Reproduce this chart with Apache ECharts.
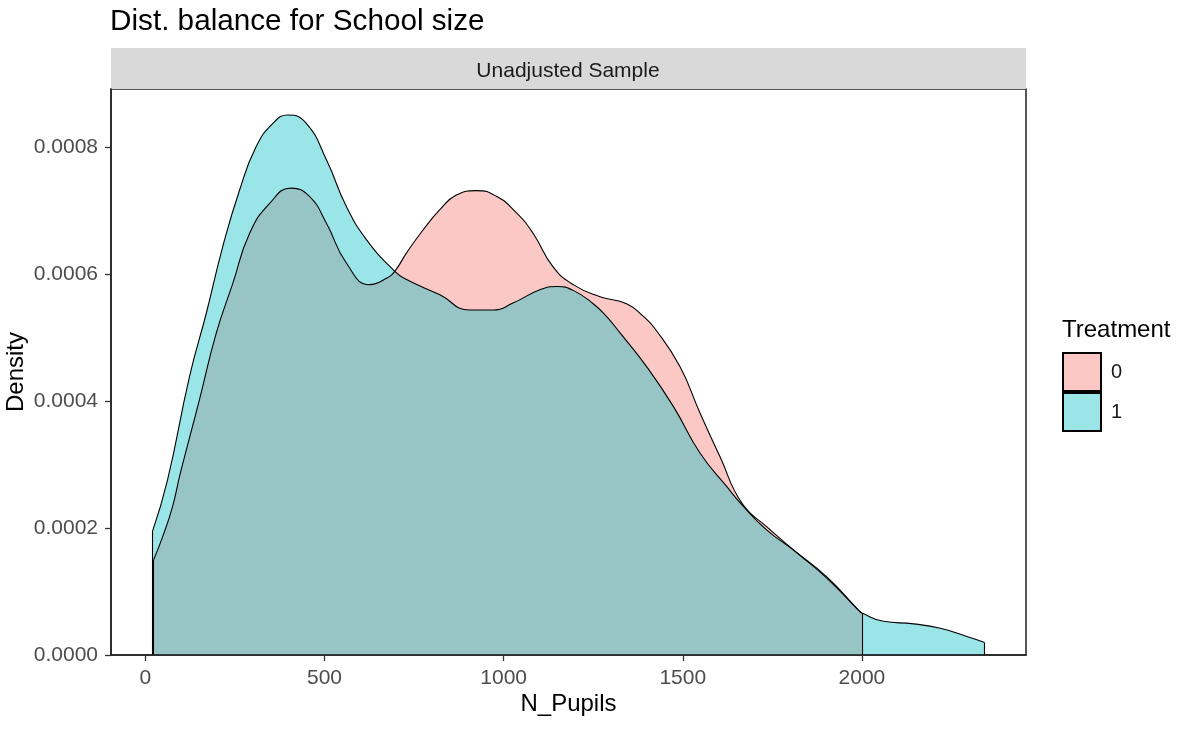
<!DOCTYPE html>
<html>
<head>
<meta charset="utf-8">
<title>Dist. balance for School size</title>
<script src="https://cdn.jsdelivr.net/npm/echarts@6/dist/echarts.min.js"></script>
<style>
  html, body { margin: 0; padding: 0; background: #fff; }
  #chart { width: 1186px; height: 729px; }
</style>
</head>
<body>
<div id="chart"></div>
<script>
// density estimates (N_Pupils, density)
const controlX = [23, 48, 76, 97, 151, 198, 244, 291, 347, 407, 458, 505, 561, 626, 673, 696, 729, 775, 822, 868, 924, 980, 1036, 1082, 1138, 1194, 1269, 1343, 1390, 1422, 1492, 1548, 1604, 1665, 1734, 1827, 1902, 1995, 2000];
const controlY = [0.000150, 0.000186, 0.000234, 0.000285, 0.000402, 0.000507, 0.000585, 0.000664, 0.000711, 0.000735, 0.000722, 0.000680, 0.000617, 0.000583, 0.000593, 0.000604, 0.000633, 0.000669, 0.000701, 0.000724, 0.000731, 0.000722, 0.000696, 0.000664, 0.000611, 0.000583, 0.000564, 0.000553, 0.000533, 0.000514, 0.000454, 0.000381, 0.000312, 0.000239, 0.000202, 0.000157, 0.000121, 0.000068, 0.000066];

const treatedX = [20, 62, 123, 170, 216, 263, 309, 356, 398, 449, 505, 561, 617, 696, 729, 822, 905, 971, 1026, 1101, 1150, 1194, 1250, 1287, 1325, 1399, 1474, 1548, 1623, 1669, 1734, 1809, 1902, 1995, 2000, 2060, 2144, 2219, 2293, 2341];
const treatedY = [0.000195, 0.000276, 0.000438, 0.000538, 0.000643, 0.000732, 0.000800, 0.000837, 0.000850, 0.000837, 0.000780, 0.000706, 0.000654, 0.000604, 0.000591, 0.000567, 0.000543, 0.000543, 0.000554, 0.000575, 0.000580, 0.000574, 0.000553, 0.000533, 0.000507, 0.000454, 0.000391, 0.000318, 0.000265, 0.000234, 0.000197, 0.000165, 0.000123, 0.000068, 0.000066, 0.000053, 0.000049, 0.000042, 0.000029, 0.000020];

const groupNames = ["0", "1"];
const xTicks = [0, 500, 1000, 1500, 2000];
const yTicks = [0, 0.0002, 0.0004, 0.0006, 0.0008];

const font = "'Liberation Sans', Arial, sans-serif";
const fillControl = "rgba(248,118,109,0.4)";
const fillTreated = "rgba(0,191,196,0.4)";

function pairs(xs, ys) {
  return xs.map((x, i) => [x, ys[i]]);
}

// vertical outline at both ends of a density, like geom_density draws
function edgeLines(xs, ys) {
  const last = xs.length - 1;
  return [
    [{ coord: [xs[0], 0] }, { coord: [xs[0], ys[0]] }],
    [{ coord: [xs[last], 0] }, { coord: [xs[last], ys[last]] }],
  ];
}

function densitySeries(name, xs, ys, fill) {
  return {
    name,
    type: "line",
    data: pairs(xs, ys),
    smooth: 0.5,
    showSymbol: false,
    symbol: "none",
    color: fill,
    lineStyle: { color: "#000", width: 1.1 },
    areaStyle: { color: fill, opacity: 1, origin: "start" },
    markLine: {
      silent: true,
      symbol: "none",
      label: { show: false },
      lineStyle: { color: "#000", width: 1.1, type: "solid" },
      data: edgeLines(xs, ys),
    },
    animation: false,
  };
}

const chart = echarts.init(document.getElementById("chart"));

chart.setOption({
  animation: false,
  textStyle: { fontFamily: font },
  title: {
    text: "Dist. balance for School size",
    left: 110,
    top: 7,
    padding: 0,
    textStyle: { fontSize: 29.7, fontWeight: "normal", color: "#000", fontFamily: font },
  },
  grid: {
    left: 111,
    right: 160,
    top: 89,
    bottom: 74,
    outerBoundsMode: "none",
    containLabel: false,
    show: true,
    borderColor: "#222",
    borderWidth: 1.5,
    backgroundColor: "transparent",
  },
  legend: {
    orient: "vertical",
    left: 1062,
    top: 352,
    itemWidth: 38,
    itemHeight: 38,
    itemGap: 0,
    icon: "rect",
    padding: 0,
    data: [
      { name: groupNames[0], itemStyle: { color: fillControl, borderColor: "#000", borderWidth: 2 } },
      { name: groupNames[1], itemStyle: { color: fillTreated, borderColor: "#000", borderWidth: 2 } },
    ],
    textStyle: { fontSize: 20, color: "#1a1a1a", fontFamily: font, padding: [0, 0, 0, 5] },
    selectedMode: false,
  },
  xAxis: {
    type: "value",
    min: -96,
    max: 2458,
    z: 10,
    name: "N_Pupils",
    nameLocation: "middle",
    nameGap: 37,
    nameMoveOverlap: false,
    nameTextStyle: { fontSize: 24, color: "#000", fontFamily: font },
    axisLine: { show: true, onZero: false, lineStyle: { color: "#222", width: 1.5 } },
    axisTick: { show: true, length: 6, customValues: xTicks, lineStyle: { color: "#333", width: 1.3 } },
    axisLabel: {
      customValues: xTicks,
      margin: 13,
      fontSize: 21,
      color: "#4d4d4d",
      fontFamily: font,
      formatter: (v) => String(v),
    },
    splitLine: { show: false },
  },
  yAxis: {
    type: "value",
    min: 0,
    max: 0.000891,
    z: 10,
    name: "Density",
    nameLocation: "middle",
    nameRotate: 90,
    nameGap: 83,
    nameMoveOverlap: false,
    nameTextStyle: { fontSize: 24, color: "#000", fontFamily: font },
    axisLine: { show: true, onZero: false, lineStyle: { color: "#222", width: 1.5 } },
    axisTick: { show: true, length: 6, customValues: yTicks, lineStyle: { color: "#333", width: 1.3 } },
    axisLabel: {
      customValues: yTicks,
      margin: 13,
      fontSize: 21,
      color: "#4d4d4d",
      fontFamily: font,
      formatter: (v) => v.toFixed(4),
    },
    splitLine: { show: false },
  },
  graphic: [
    {
      type: "rect",
      left: 111,
      top: 48,
      shape: { width: 915, height: 41 },
      style: { fill: "#d9d9d9" },
      silent: true,
    },
    {
      type: "text",
      x: 568,
      y: 71,
      style: {
        text: "Unadjusted Sample",
        fontSize: 21,
        fontFamily: font,
        fill: "#1a1a1a",
        textAlign: "center",
        textVerticalAlign: "middle",
      },
      silent: true,
    },
    {
      type: "text",
      x: 1062,
      y: 330,
      style: {
        text: "Treatment",
        fontSize: 24,
        fontFamily: font,
        fill: "#000",
        textAlign: "left",
        textVerticalAlign: "middle",
      },
      silent: true,
    },
  ],
  series: [
    densitySeries(groupNames[0], controlX, controlY, fillControl),
    densitySeries(groupNames[1], treatedX, treatedY, fillTreated),
  ],
});
</script>
</body>
</html>
